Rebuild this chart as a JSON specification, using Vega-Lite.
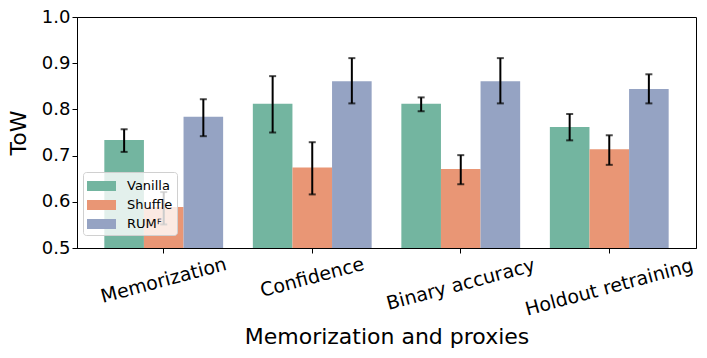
{
  "$schema": "https://vega.github.io/schema/vega-lite/v6.json",
  "autosize": "none",
  "width": 619,
  "height": 231,
  "padding": {"left": 77, "top": 17, "right": 11, "bottom": 110},
  "config": {
    "font": "DejaVu Sans",
    "view": {"stroke": "black", "strokeWidth": 1},
    "axis": {"domainColor": "black", "tickColor": "black", "labelColor": "black", "titleColor": "black", "grid": false, "labelFontWeight": "normal", "titleFontWeight": "normal"}
  },
  "data": {
    "values": [
      {"category": "Memorization", "method": "Vanilla", "value": 0.734, "lo": 0.708, "hi": 0.757},
      {"category": "Memorization", "method": "Shuffle", "value": 0.589, "lo": 0.551, "hi": 0.621},
      {"category": "Memorization", "method": "RUMꟳ", "value": 0.784, "lo": 0.742, "hi": 0.822},
      {"category": "Confidence", "method": "Vanilla", "value": 0.812, "lo": 0.750, "hi": 0.872},
      {"category": "Confidence", "method": "Shuffle", "value": 0.674, "lo": 0.616, "hi": 0.729},
      {"category": "Confidence", "method": "RUMꟳ", "value": 0.861, "lo": 0.813, "hi": 0.911},
      {"category": "Binary accuracy", "method": "Vanilla", "value": 0.812, "lo": 0.796, "hi": 0.826},
      {"category": "Binary accuracy", "method": "Shuffle", "value": 0.671, "lo": 0.638, "hi": 0.701},
      {"category": "Binary accuracy", "method": "RUMꟳ", "value": 0.861, "lo": 0.813, "hi": 0.911},
      {"category": "Holdout retraining", "method": "Vanilla", "value": 0.762, "lo": 0.733, "hi": 0.790},
      {"category": "Holdout retraining", "method": "Shuffle", "value": 0.714, "lo": 0.680, "hi": 0.744},
      {"category": "Holdout retraining", "method": "RUMꟳ", "value": 0.844, "lo": 0.813, "hi": 0.876}
    ]
  },
  "encoding": {
    "x": {
      "field": "category", "type": "nominal",
      "sort": ["Memorization", "Confidence", "Binary accuracy", "Holdout retraining"],
      "scale": {"paddingInner": 0.2, "paddingOuter": 0.184},
      "axis": {
        "title": "Memorization and proxies", "titleFontSize": 22, "titlePadding": 7,
        "labelFontSize": 19, "labelAngle": -15, "labelAlign": "center", "labelBaseline": "middle",
        "labelPadding": {
          "condition": [
            {"test": "datum.value == 'Confidence'", "value": 24},
            {"test": "datum.value == 'Binary accuracy'", "value": 31},
            {"test": "datum.value == 'Holdout retraining'", "value": 34}
          ],
          "value": 27
        },
        "tickSize": 5, "labelOverlap": false
      }
    },
    "xOffset": {"field": "method", "type": "nominal", "sort": ["Vanilla", "Shuffle", "RUMꟳ"], "scale": {"paddingInner": 0, "paddingOuter": 0}}
  },
  "layer": [
    {
      "mark": {"type": "bar", "clip": true},
      "encoding": {
        "y": {"field": "value", "type": "quantitative", "scale": {"domain": [0.5, 1.0], "zero": false, "nice": false},
          "axis": {"title": "ToW", "titleFontSize": 22, "titlePadding": 11, "labelFontSize": 18, "values": [0.5, 0.6, 0.7, 0.8, 0.9, 1.0], "format": ".1f", "tickSize": 5}},
        "color": {
          "field": "method", "type": "nominal",
          "scale": {"domain": ["Vanilla", "Shuffle", "RUMꟳ"], "range": ["#73b5a0", "#e99675", "#95a3c3"]},
          "legend": {
            "title": null, "orient": "none", "legendX": 6, "legendY": 155,
            "padding": 4, "labelFontSize": 13, "labelOffset": 20, "rowPadding": 2,
            "symbolType": "M-1.0,-0.5H1.9V0.5H-1.0Z", "symbolSize": 400, "symbolStrokeWidth": 0, "symbolOpacity": 1,
            "strokeColor": "#d0d0d0", "fillColor": "rgba(255,255,255,0.8)", "cornerRadius": 3
          }
        }
      }
    },
    {
      "mark": {"type": "rule", "color": "black", "strokeWidth": 2},
      "encoding": {"y": {"field": "lo", "type": "quantitative"}, "y2": {"field": "hi"}}
    },
    {
      "mark": {"type": "tick", "color": "black", "thickness": 2, "size": 7},
      "encoding": {"y": {"field": "lo", "type": "quantitative"}}
    },
    {
      "mark": {"type": "tick", "color": "black", "thickness": 2, "size": 7},
      "encoding": {"y": {"field": "hi", "type": "quantitative"}}
    }
  ]
}
